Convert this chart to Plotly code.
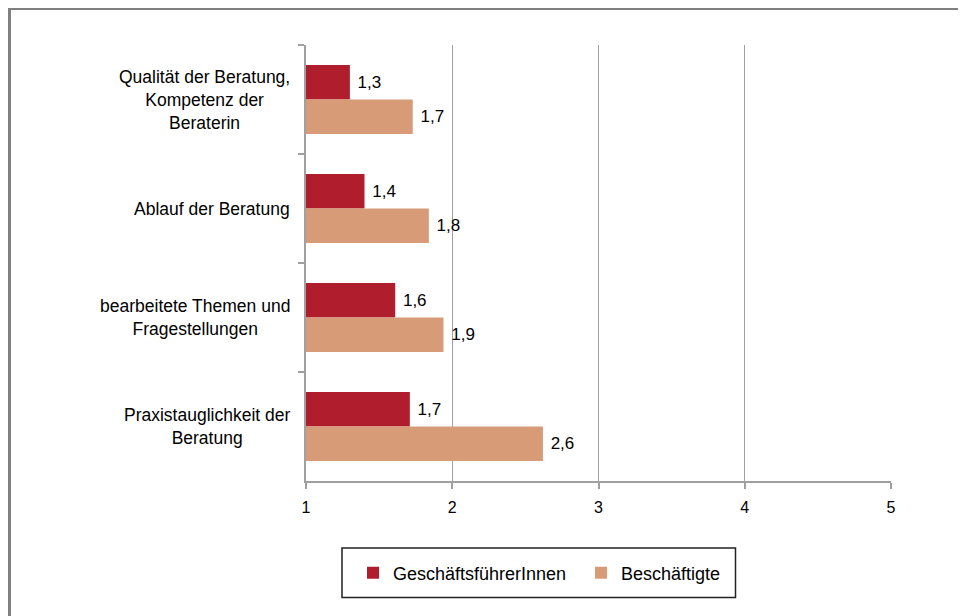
import plotly.graph_objects as go

categories = [
    "Qualität der Beratung,<br>Kompetenz der<br>Beraterin",
    "Ablauf der Beratung",
    "bearbeitete Themen und<br>Fragestellungen",
    "Praxistauglichkeit der<br>Beratung",
]
series_names = ["GeschäftsführerInnen", "Beschäftigte"]
gf_values = [1.30, 1.40, 1.61, 1.71]
besch_values = [1.73, 1.84, 1.94, 2.62]
x_ticks = [1, 2, 3, 4, 5]
colors = ["#B01E2E", "#D89B78"]

FONT = "Liberation Sans, Arial, sans-serif"
OFF = 8  # default page body margin
W, H = 966 - OFF, 616 - OFF
# plot area in page pixels: x 306..891, y 45..481
ML, MT = 306 - OFF, 45 - OFF
MR = W - (891 - OFF)
MB = H - (481 - OFF)
PW, PH = W - ML - MR, H - MT - MB


def px2x(px):
    return (px - OFF - ML) / PW


def py2y(py):
    return (H - MB - (py - OFF)) / PH


fig = go.Figure()
for name, vals, col in zip(series_names, [gf_values, besch_values], colors):
    fig.add_trace(go.Bar(
        y=categories,
        x=[v - 1 for v in vals],
        base=1,
        customdata=vals,
        orientation="h",
        name=name,
        marker=dict(color=col, line=dict(width=0)),
        texttemplate=" %{customdata:.1f}",
        textposition="outside",
        textfont=dict(family=FONT, size=17, color="black"),
        cliponaxis=False,
    ))

# category labels (centered multi-line blocks)
for c in categories:
    fig.add_annotation(
        x=px2x(292), xref="paper", y=c, yref="y",
        text=c, showarrow=False, xanchor="right", align="center",
        font=dict(family=FONT, size=17.5, color="black"),
    )

shapes = [
    # outer frame
    dict(type="rect", xref="paper", yref="paper",
         x0=px2x(9.5), x1=px2x(1000), y0=py2y(660), y1=py2y(8.5),
         line=dict(color="#808080", width=3), fillcolor="rgba(0,0,0,0)", layer="below"),
    # legend box
    dict(type="rect", xref="paper", yref="paper",
         x0=px2x(342), x1=px2x(735.5), y0=py2y(597.5), y1=py2y(548),
         line=dict(color="#222222", width=1.5), fillcolor="rgba(0,0,0,0)"),
]

fig.update_layout(
    width=W, height=H,
    margin=dict(l=ML, r=MR, t=MT, b=MB),
    paper_bgcolor="white", plot_bgcolor="white",
    font=dict(family=FONT, size=16, color="black"),
    barmode="group", bargap=0.366, bargroupgap=0,
    separators=",.",
    showlegend=True,
    legend=dict(
        orientation="h", x=px2x(353), xanchor="left",
        y=py2y(573), yanchor="middle",
        font=dict(family=FONT, size=18, color="black"),
        bgcolor="rgba(0,0,0,0)", borderwidth=0,
        traceorder="normal", entrywidth=183,
    ),
    shapes=shapes,
)
fig.update_xaxes(
    range=[1, 5], tickvals=x_ticks, ticktext=[str(t) for t in x_ticks],
    showgrid=True, gridcolor="#A0A0A0", gridwidth=1,
    showline=True, linecolor="#A0A0A0", linewidth=2,
    ticks="outside", ticklen=6, tickcolor="#A0A0A0", tickwidth=2,
    ticklabelstandoff=5,
    zeroline=False, tickfont=dict(family=FONT, size=16, color="black"),
)
fig.update_yaxes(
    type="category", autorange="reversed",
    showline=True, linecolor="#A0A0A0", linewidth=2,
    ticks="outside", ticklen=6, tickcolor="#A0A0A0", tickwidth=2,
    tickson="boundaries", showticklabels=False, showgrid=False,
)

fig.write_html("out.html")
